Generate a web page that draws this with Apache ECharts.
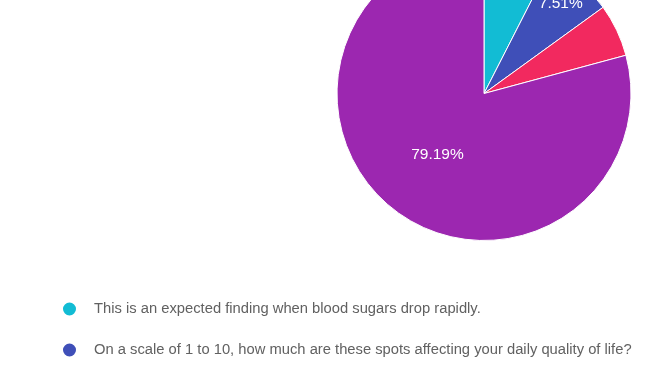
<!DOCTYPE html>
<html>
<head>
<meta charset="utf-8">
<script src="https://cdn.jsdelivr.net/npm/echarts@6/dist/echarts.min.js"></script>
<style>
html,body{margin:0;padding:0;background:#fff;}
#chart{width:672px;height:372px;}
</style>
</head>
<body>
<div id="chart"></div>
<script>
const categories = [
  'This is an expected finding when blood sugars drop rapidly.',
  'On a scale of 1 to 10, how much are these spots affecting your daily quality of life?',
  'Option 3',
  'Option 4'
];
const counts = [13, 13, 10, 137];
const colors = ['#12bcd4', '#3f4fb8', '#f2295f', '#9c27b0'];
const visibleLegend = [categories[0], categories[1]];

const chart = echarts.init(document.getElementById('chart'), null, {renderer: 'canvas'});
const FONT = '"Liberation Sans", Arial, sans-serif';

const mainData = categories.map((name, i) => ({
  name: name,
  value: counts[i],
  itemStyle: {color: colors[i]},
  label: {show: i === 3}
}));
const outerLabelData = categories.map((name, i) => ({
  name: name,
  value: counts[i],
  label: {show: i === 0 || i === 1}
}));

chart.setOption({
  animation: false,
  backgroundColor: '#ffffff',
  legend: {
    orient: 'vertical',
    left: 61,
    top: 300.5,
    padding: 0,
    itemGap: 24,
    itemWidth: 15,
    itemHeight: 15,
    icon: 'circle',
    data: visibleLegend,
    selectedMode: false,
    textStyle: {
      color: '#616161',
      fontSize: 14.75,
      lineHeight: 15,
      fontFamily: FONT,
      padding: [0, 0, 0, 12]
    }
  },
  series: [
    {
      type: 'pie',
      center: [484, 93.5],
      radius: [0, 147],
      startAngle: 90,
      clockwise: true,
      silent: true,
      itemStyle: {borderColor: '#ffffff', borderWidth: 1},
      label: {
        position: 'inside',
        formatter: '{d}%',
        color: '#ffffff',
        fontSize: 15.5,
        fontFamily: FONT
      },
      labelLine: {show: false},
      data: mainData
    },
    {
      type: 'pie',
      center: [484, 93.5],
      radius: [83, 147],
      startAngle: 90,
      clockwise: true,
      silent: true,
      legendHoverLink: false,
      itemStyle: {color: 'rgba(0,0,0,0)', borderWidth: 0},
      label: {
        position: 'inside',
        formatter: '{d}%',
        color: '#ffffff',
        fontSize: 15.5,
        fontFamily: FONT
      },
      labelLine: {show: false},
      data: outerLabelData
    }
  ]
});
</script>
</body>
</html>
